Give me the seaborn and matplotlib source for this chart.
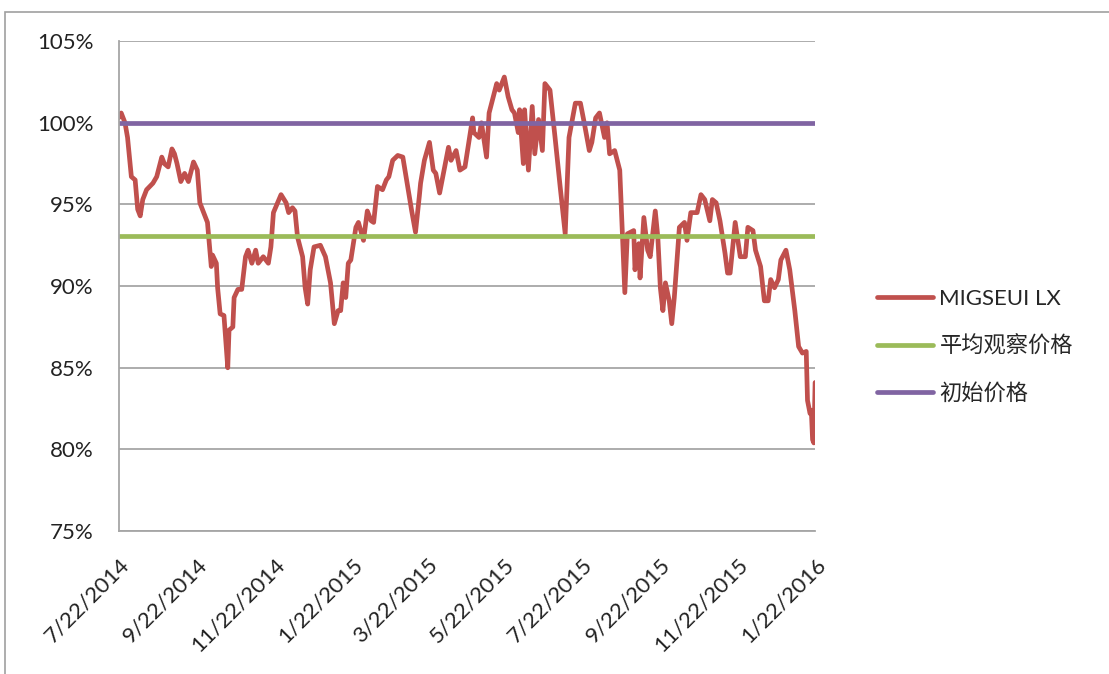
import numpy as np
import pandas as pd
import seaborn as sns
import matplotlib.pyplot as plt
import matplotlib.patches as mpatches
from matplotlib.ticker import FuncFormatter

start_date = '2014-07-22'
# days since start, and fund price as % of initial
days = [0, 2, 5, 7, 10, 13, 15, 17, 19, 22, 27, 30, 34, 36, 39, 42, 44, 46, 49, 52,
        55, 59, 62, 64, 70, 71, 73, 74, 77, 78, 80, 83, 86, 87, 90, 91, 94, 97, 100, 102,
        105, 108, 110, 114, 118, 120, 122, 128, 132, 134, 137, 139, 141, 145, 147, 149, 151, 154, 159, 163,
        167, 170, 173, 175, 177, 179, 181, 183, 187, 189, 193, 196, 199, 201, 204, 208, 211, 213, 216, 220,
        224, 227, 231, 234, 237, 238, 241, 245, 248, 250, 253, 256, 260, 262, 266, 269, 273, 276, 279, 280,
        284, 286, 290, 292, 294, 298, 300, 304, 307, 310, 312, 315, 316, 319, 320, 323, 326, 328, 331, 334,
        336, 340, 344, 348, 352, 355, 360, 364, 367, 371, 373, 376, 379, 383, 385, 387, 391, 395, 397, 399,
        401, 406, 407, 410, 411, 414, 417, 419, 423, 425, 427, 429, 431, 434, 436, 438, 442, 446, 448, 451,
        456, 459, 462, 466, 468, 471, 474, 478, 480, 482, 486, 490, 494, 496, 500, 502, 506, 509, 512, 514,
        517, 520, 522, 526, 529, 533, 536, 539, 542, 543, 545, 546, 547, 548, 549]
price = [100.3, 100.6, 100.0, 99.1, 96.7, 96.5, 94.7, 94.3, 95.3, 95.9, 96.3, 96.7, 97.9, 97.5, 97.3, 98.4, 98.1, 97.5, 96.4, 96.9,
         96.4, 97.6, 97.1, 95.1, 93.9, 93.0, 91.2, 91.9, 91.4, 89.9, 88.3, 88.2, 85.0, 87.3, 87.5, 89.3, 89.8, 89.8, 91.8, 92.2,
         91.4, 92.2, 91.4, 91.8, 91.4, 92.4, 94.5, 95.6, 95.1, 94.5, 94.8, 94.6, 93.0, 91.8, 89.9, 88.9, 91.0, 92.4, 92.5, 91.8,
         90.2, 87.7, 88.5, 88.5, 90.2, 89.3, 91.4, 91.6, 93.6, 93.9, 92.8, 94.6, 94.0, 93.9, 96.1, 95.9, 96.5, 96.7, 97.7, 98.0,
         97.9, 96.5, 94.6, 93.3, 95.5, 96.3, 97.7, 98.8, 97.1, 96.9, 95.7, 96.9, 98.5, 97.7, 98.3, 97.1, 97.3, 98.8, 100.3, 99.4,
         99.1, 100.0, 97.9, 100.6, 101.2, 102.4, 102.0, 102.8, 101.6, 100.8, 100.6, 99.4, 100.8, 97.5, 100.8, 97.1, 101.0, 98.1, 100.2, 98.3,
         102.4, 102.0, 99.1, 96.1, 93.2, 99.1, 101.2, 101.2, 100.0, 98.3, 98.8, 100.3, 100.6, 99.1, 100.0, 98.1, 98.3, 97.1, 93.4, 89.6,
         93.2, 93.4, 91.0, 92.6, 90.5, 94.2, 92.2, 91.8, 94.6, 93.0, 89.9, 88.5, 90.2, 89.1, 87.7, 89.3, 93.6, 93.9, 92.8, 94.5,
         94.5, 95.6, 95.3, 94.0, 95.3, 95.1, 94.0, 92.0, 90.8, 90.8, 93.9, 91.8, 91.8, 93.6, 93.4, 92.2, 91.2, 89.1, 89.1, 90.4,
         89.9, 90.4, 91.6, 92.2, 91.0, 88.5, 86.3, 85.9, 86.0, 83.0, 82.2, 82.4, 80.6, 80.4, 84.1]
avg_observed = 93.06
initial_price = 100.0
end_date = '2016-01-22'

tick_labels = ['7/22/2014', '9/22/2014', '11/22/2014', '1/22/2015', '3/22/2015',
               '5/22/2015', '7/22/2015', '9/22/2015', '11/22/2015', '1/22/2016']
series_names = ['MIGSEUI LX', '平均观察价格', '初始价格']
colors = ['#C0504D', '#9BBB59', '#8064A2']

dates = pd.Timestamp(start_date) + pd.to_timedelta(days, unit='D')
span = pd.to_datetime([start_date, end_date])
df = pd.concat([
    pd.DataFrame({'date': dates, 'value': price, 'series': series_names[0]}),
    pd.DataFrame({'date': span, 'value': [avg_observed] * 2, 'series': series_names[1]}),
    pd.DataFrame({'date': span, 'value': [initial_price] * 2, 'series': series_names[2]}),
])

sns.set_style('white')
plt.rcParams['font.family'] = ['Lato', 'Noto Sans CJK SC', 'DejaVu Sans']

fig = plt.figure(figsize=(11.09, 6.74), dpi=100)
ax = fig.add_axes([0.107, 0.212, 0.628, 0.727])

sns.lineplot(data=df, x='date', y='value', hue='series', hue_order=series_names,
             palette=colors, linewidth=3.4, ax=ax, sort=False)

ax.set_ylim(75, 105)
ax.set_yticks(np.arange(75, 106, 5))
ax.yaxis.set_major_formatter(FuncFormatter(lambda v, p: '%d%%' % v))
ax.set_xlim(span[0], span[1])
ax.set_xticks(pd.to_datetime(tick_labels, format='%m/%d/%Y'))
ax.set_xticklabels(tick_labels, rotation=45, ha='right', rotation_mode='anchor')
ax.grid(axis='y', color='#a6a6a6', linewidth=1.3)
ax.set_axisbelow(True)
for s in ['top', 'right']:
    ax.spines[s].set_visible(False)
for s in ['left', 'bottom']:
    ax.spines[s].set_color('#a6a6a6')
    ax.spines[s].set_linewidth(1.3)
ax.tick_params(axis='both', direction='out', length=7, width=1.3, color='#a6a6a6',
               labelsize=16, labelcolor='#222222')
ax.tick_params(axis='y', pad=11)
ax.tick_params(axis='x', pad=10)
ax.set_xlabel('')
ax.set_ylabel('')

ax.legend(title=None, frameon=False, loc='center left', bbox_to_anchor=(0.791, 0.486),
          bbox_transform=fig.transFigure, fontsize=16, handlelength=2.5,
          handletextpad=0.3, labelspacing=1.2, borderaxespad=0, borderpad=0)

# outer chart frame
fig.patches.append(mpatches.Rectangle((5 / 1109, -0.1), 1.2, 1 - 12 / 674 + 0.1,
                                      transform=fig.transFigure, fill=False,
                                      edgecolor='#a0a0a0', linewidth=1.2))

fig.savefig('out.png', dpi=100)
